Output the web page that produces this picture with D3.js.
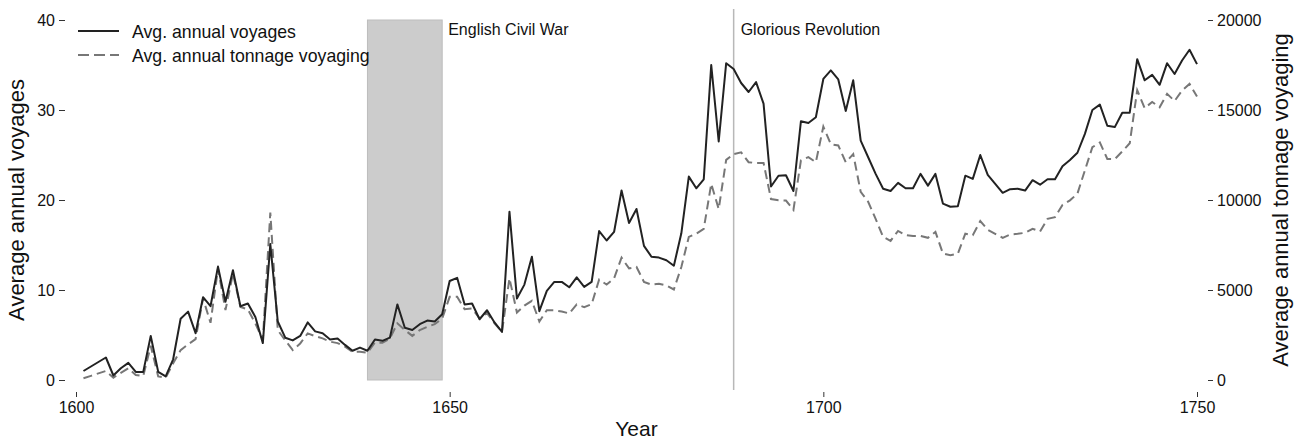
<!DOCTYPE html>
<html>
<head>
<meta charset="utf-8">
<script src="https://cdn.jsdelivr.net/npm/d3@7"></script>
<style>
  body { margin: 0; background: #fff; }
  text { font-family: 'Liberation Sans', Arial, Helvetica, sans-serif; fill: #111; }
  .axis path.domain { display: none; }
  .axis line { stroke: #333; }
</style>
</head>
<body>
<div id="chart"></div>
<script>
// years 1601..1750
const years = d3.range(1601, 1751)

const voyages = [
  1.0, 1.5, 2.0, 2.5, 0.5, 1.3, 1.9, 0.9, 0.9, 4.9,
  0.9, 0.4, 2.3, 6.8, 7.6, 5.2, 9.2, 8.2, 12.6, 8.7,
  12.2, 8.2, 8.5, 7.0, 4.1, 15.1, 6.5, 4.7, 4.4, 4.9,
  6.4, 5.4, 5.2, 4.5, 4.6, 3.9, 3.25, 3.6, 3.25, 4.5,
  4.35, 4.7, 8.4, 5.8, 5.55, 6.2, 6.6, 6.5, 7.3, 11.0,
  11.35, 8.4, 8.5, 6.75, 7.75, 6.4, 5.35, 18.7, 9.05, 10.6,
  13.7, 7.65, 9.9, 10.9, 10.9, 10.3, 11.4, 10.35, 10.9, 16.55,
  15.5, 16.45, 21.05, 17.45, 19.0, 14.9, 13.7, 13.6, 13.3, 12.7,
  16.3, 22.6, 21.3, 22.3, 35.0, 26.5, 35.2, 34.55, 33.0, 32.0,
  33.1, 30.7, 21.5, 22.7, 22.75, 21.0, 28.75, 28.55, 29.2, 33.45,
  34.4, 33.4, 29.9, 33.3, 26.6, 24.75, 22.9, 21.25, 21.0, 21.9,
  21.3, 21.3, 22.9, 21.6, 22.9, 19.6, 19.25, 19.3, 22.7, 22.35,
  25.0, 22.8, 21.8, 20.8, 21.2, 21.25, 21.05, 22.2, 21.7, 22.3,
  22.3, 23.75, 24.45, 25.25, 27.35, 30.0, 30.6, 28.25, 28.1, 29.7,
  29.7, 35.65, 33.3, 33.9, 32.8, 35.2, 34.0, 35.5, 36.7, 35.1
]

const tonnage = [
  100, 230, 370, 500, 130, 400, 650, 280, 220, 1900,
  200, 130, 930, 1660, 1980, 2270, 4530, 3180, 6190, 3880,
  5910, 4060, 3920, 3140, 2220, 9300, 2770, 2200, 1660, 2030,
  2590, 2440, 2310, 2130, 2050, 1850, 1570, 1570, 1510, 2080,
  2070, 2300, 3150, 2780, 2450, 2770, 2950, 3100, 3420, 4620,
  4630, 3930, 3970, 3430, 3720, 3150, 2680, 5650, 3750, 4130,
  4400, 3250, 3880, 3870, 3800, 3700, 4200, 4050, 4210, 5580,
  5300, 5650, 6800, 6200, 6280, 5450, 5300, 5350, 5250, 5030,
  6280, 7950, 8130, 8400, 10900, 9500, 12230, 12550, 12650, 12100,
  12050, 12060, 10050, 9980, 9970, 9450, 12200, 12380, 12100, 14080,
  13100, 13030, 12100, 12550, 10450, 9900, 8950, 7950, 7730, 8280,
  8050, 8000, 8010, 7900, 8230, 7030, 6930, 7020, 8130, 8050,
  8830, 8350, 8120, 7900, 8080, 8120, 8180, 8400, 8250, 8950,
  9050, 9730, 9980, 10350, 11650, 12930, 13200, 12280, 12270, 12700,
  13150, 16100, 15100, 15450, 15150, 15900, 15500, 16080, 16450, 15750
]

const xTicks = [1600, 1650, 1700, 1750]
const leftTicks = [0, 10, 20, 30, 40]
const rightTicks = [0, 5000, 10000, 15000, 20000]

const civilWar = [1639, 1649]
const revolution = 1688

const margin = { top: 20, left: 76, right: 109, bottom: 61 }
const width = 1306 - margin.left - margin.right
const height = 441 - margin.top - margin.bottom

const svg = d3
  .select('#chart')
  .append('svg')
  .attr('width', width + margin.left + margin.right)
  .attr('height', height + margin.top + margin.bottom)
  .append('g')
  .attr('transform', 'translate(' + margin.left + ',' + margin.top + ')')

const xPositionScale = d3.scaleLinear().domain([1600, 1750]).range([0, width])
const yLeftScale = d3.scaleLinear().domain([0, 40]).range([height, 0])
const yRightScale = d3.scaleLinear().domain([0, 20000]).range([height, 0])

// shaded civil war period
svg
  .append('rect')
  .attr('x', xPositionScale(civilWar[0]))
  .attr('y', yLeftScale(40))
  .attr('width', xPositionScale(civilWar[1]) - xPositionScale(civilWar[0]))
  .attr('height', yLeftScale(0) - yLeftScale(40))
  .attr('fill', '#cccccc')
  .attr('stroke', '#bdbdbd')
  .attr('stroke-width', 1)

// glorious revolution line
svg
  .append('line')
  .attr('x1', xPositionScale(revolution))
  .attr('x2', xPositionScale(revolution))
  .attr('y1', -11)
  .attr('y2', height + 10)
  .attr('stroke', '#b8b8b8')
  .attr('stroke-width', 1.5)

svg
  .append('text')
  .attr('x', xPositionScale(civilWar[1]) + 6)
  .attr('y', 15)
  .attr('font-size', 16)
  .text('English Civil War')

svg
  .append('text')
  .attr('x', xPositionScale(revolution) + 7)
  .attr('y', 15)
  .attr('font-size', 16)
  .text('Glorious Revolution')

const voyageLine = d3
  .line()
  .x((d, i) => xPositionScale(years[i]))
  .y(d => yLeftScale(d))

const tonnageLine = d3
  .line()
  .x((d, i) => xPositionScale(years[i]))
  .y(d => yRightScale(d))

svg
  .append('path')
  .datum(tonnage)
  .attr('d', tonnageLine)
  .attr('fill', 'none')
  .attr('stroke', '#777')
  .attr('stroke-width', 2)
  .attr('stroke-dasharray', '9,5')

svg
  .append('path')
  .datum(voyages)
  .attr('d', voyageLine)
  .attr('fill', 'none')
  .attr('stroke', '#222')
  .attr('stroke-width', 2)
  .attr('stroke-linejoin', 'round')

// legend
const legend = svg.append('g').attr('transform', 'translate(2,11)')
legend
  .append('line')
  .attr('x1', 0)
  .attr('x2', 41)
  .attr('stroke', '#222')
  .attr('stroke-width', 2)
legend
  .append('text')
  .attr('x', 54)
  .attr('y', 7)
  .attr('font-size', 17.7)
  .text('Avg. annual voyages')
legend
  .append('line')
  .attr('x1', 0)
  .attr('x2', 41)
  .attr('y1', 24)
  .attr('y2', 24)
  .attr('stroke', '#777')
  .attr('stroke-width', 2)
  .attr('stroke-dasharray', '11,5')
legend
  .append('text')
  .attr('x', 54)
  .attr('y', 31)
  .attr('font-size', 17.7)
  .text('Avg. annual tonnage voyaging')

// axes
const xAxis = d3.axisBottom(xPositionScale).tickValues(xTicks).tickSize(5).tickPadding(5).tickFormat(d3.format('d'))
svg
  .append('g')
  .attr('class', 'axis x-axis')
  .attr('transform', 'translate(0,' + (height + 12) + ')')
  .call(xAxis)
  .selectAll('text')
  .attr('font-size', 16)

const yAxis = d3.axisLeft(yLeftScale).tickValues(leftTicks).tickSize(6).tickPadding(4)
svg
  .append('g')
  .attr('class', 'axis y-axis')
  .attr('transform', 'translate(-11,0)')
  .call(yAxis)
  .selectAll('text')
  .attr('font-size', 16)

const yAxisRight = d3.axisRight(yRightScale).tickValues(rightTicks).tickSize(5).tickPadding(4).tickFormat(d3.format('d'))
svg
  .append('g')
  .attr('class', 'axis y-axis-right')
  .attr('transform', 'translate(' + (width + 11) + ',0)')
  .call(yAxisRight)
  .selectAll('text')
  .attr('font-size', 16)

svg.selectAll('.axis text').style('font-family', "'Liberation Sans', Arial, sans-serif").attr('fill', '#111')

// titles
svg
  .append('text')
  .attr('text-anchor', 'middle')
  .attr('x', width / 2)
  .attr('y', height + 56)
  .attr('font-size', 21)
  .text('Year')

svg
  .append('text')
  .attr('text-anchor', 'middle')
  .attr('transform', 'translate(' + (-margin.left + 24) + ',' + height / 2 + ') rotate(-90)')
  .attr('font-size', 22)
  .text('Average annual voyages')

svg
  .append('text')
  .attr('text-anchor', 'middle')
  .attr('transform', 'translate(' + (width + 91) + ',' + height / 2 + ') rotate(-90)')
  .attr('font-size', 22)
  .text('Average annual tonnage voyaging')
</script>
</body>
</html>
